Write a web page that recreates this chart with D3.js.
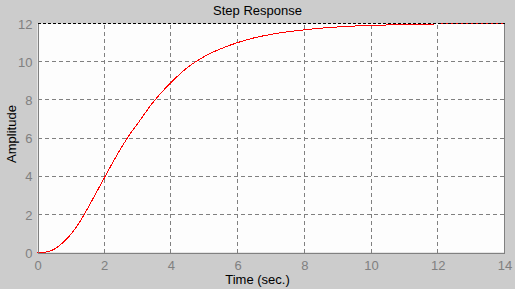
<!DOCTYPE html>
<html>
<head>
<meta charset="utf-8">
<script src="https://cdn.jsdelivr.net/npm/d3@7"></script>
<style>
	body { margin: 0; background: #cccccc; }
	svg { display: block; font-family: "Liberation Sans", Arial, sans-serif; }
</style>
</head>
<body>
<svg id="graphe" width="515" height="289"></svg>
<script>
"use strict";

// données
var temps = [0, 0.25, 0.5, 0.75, 1, 1.25, 1.5, 1.75, 2, 2.25, 2.5, 2.75, 3, 3.5, 4, 4.5, 5, 5.5, 6, 6.5, 7, 8, 9, 10, 11, 11.9];
var amplitude = [0, 0.02, 0.17, 0.5, 0.95, 1.55, 2.3, 3.1, 3.9, 4.7, 5.45, 6.15, 6.75, 7.95, 8.9, 9.7, 10.27, 10.68, 11.0, 11.25, 11.43, 11.67, 11.82, 11.9, 11.94, 11.96];
var tempsFinal = [12, 14]; // trait rouge sous le bord supérieur
var valeurFinale = [12, 12];
var ticksX = [0, 2, 4, 6, 8, 10, 12, 14];
var ticksY = [0, 2, 4, 6, 8, 10, 12];

var titre = "Step Response",
	titreX = "Time (sec.)",
	titreY = "Amplitude";

var svg = d3.select("#graphe");

var x = d3.scaleLinear().domain([0, 14]).range([37.5, 504.5]);
var y = d3.scaleLinear().domain([0, 12]).range([252.5, 23.5]);

// fond blanc du tracé
svg.append("rect")
.attr("x", x(0))
.attr("y", y(12))
.attr("width", x(14) - x(0))
.attr("height", y(0) - y(12))
.attr("fill", "#fdfdfd");

// grilles
var gGrille = svg.append("g")
.attr("stroke", "#808080")
.attr("stroke-dasharray", "4,3")
.attr("shape-rendering", "crispEdges");

gGrille.selectAll(".gv")
.data(ticksX.slice(1, -1))
.enter()
	.append("line")
	.attr("class", "gv")
	.attr("x1", d => x(d) )
	.attr("x2", d => x(d) )
	.attr("y1", y(0))
	.attr("y2", y(12));

gGrille.selectAll(".gh")
.data(ticksY.slice(1, -1))
.enter()
	.append("line")
	.attr("class", "gh")
	.attr("x1", x(0))
	.attr("x2", x(14))
	.attr("y1", d => y(d) )
	.attr("y2", d => y(d) );

// courbes
var ligne = d3.line()
.x(d => x(d[0]) )
.y(d => y(d[1]) )
.curve(d3.curveMonotoneX);

svg.append("path")
.datum(d3.zip(tempsFinal, valeurFinale))
.attr("d", ligne)
.attr("fill", "none")
.attr("stroke", "#ff0000")
.attr("shape-rendering", "crispEdges");

svg.append("path")
.datum(d3.zip(temps, amplitude))
.attr("d", ligne)
.attr("fill", "none")
.attr("stroke", "#ff0000")
.attr("stroke-width", 1)
.attr("shape-rendering", "crispEdges");

// bord supérieur en tirets noirs
svg.append("line")
.attr("x1", x(0))
.attr("x2", x(14))
.attr("y1", y(12))
.attr("y2", y(12))
.attr("stroke", "#000")
.attr("stroke-dasharray", "3,2")
.attr("shape-rendering", "crispEdges");

// bord droit
svg.append("line")
.attr("x1", x(14))
.attr("x2", x(14))
.attr("y1", y(12))
.attr("y2", y(0))
.attr("stroke", "#808080")
.attr("shape-rendering", "crispEdges");

// axes
var axeX = svg.append("g")
.attr("transform", "translate(0," + y(0) + ")")
.call(d3.axisBottom(x)
	.tickValues(ticksX)
	.tickSize(0)
	.tickPadding(8));

var axeY = svg.append("g")
.attr("transform", "translate(" + x(0) + ",0)")
.call(d3.axisLeft(y)
	.tickValues(ticksY)
	.tickSize(0)
	.tickPadding(5));

svg.selectAll(".domain")
.attr("stroke", "#808080")
.attr("shape-rendering", "crispEdges");
svg.selectAll(".tick text")
.attr("fill", "#808080")
.attr("font-family", "Liberation Sans, Arial, sans-serif")
.attr("font-size", 13);
axeY.selectAll(".tick text").attr("dy", "0.36em");

// titres
svg.append("text")
.attr("x", 257.5)
.attr("y", 15)
.attr("text-anchor", "middle")
.attr("font-size", 13)
.text(titre);

svg.append("text")
.attr("x", 257.5)
.attr("y", 284)
.attr("text-anchor", "middle")
.attr("font-size", 13)
.text(titreX);

svg.append("text")
.attr("transform", "translate(16,134) rotate(-90)")
.attr("text-anchor", "middle")
.attr("font-size", 13)
.text(titreY);
</script>
</body>
</html>
